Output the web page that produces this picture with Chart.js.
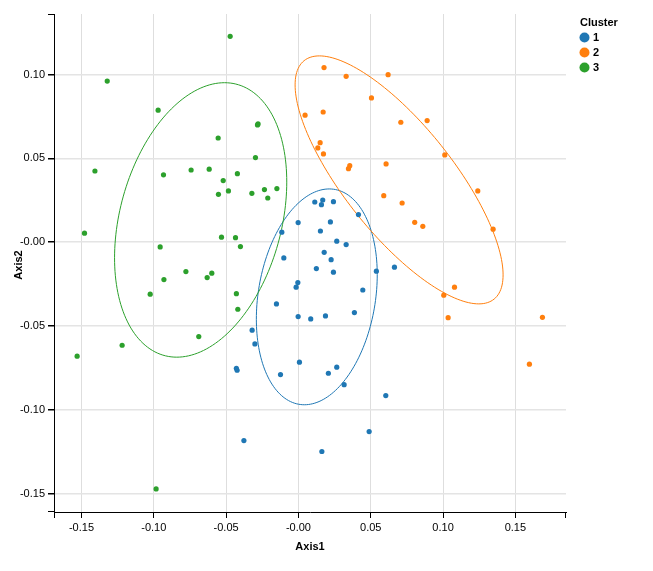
<!DOCTYPE html>
<html>
<head>
<meta charset="utf-8">
<script src="https://cdn.jsdelivr.net/npm/chart.js@4"></script>
<style>
  body { margin: 0; background: #fff; }
  canvas { display: block; }
</style>
</head>
<body>
<canvas id="scatter" width="653" height="571"></canvas>
<script>
// cluster points (Axis1, Axis2)
var cluster1X = [0.0113, 0.0168, 0.0159, 0.0242, 0.0415, -0.0002, 0.0221, -0.0115, 0.0152, 0.0265, 0.0330, -0.0101, 0.0178, 0.0226, 0.0124, 0.0242, 0.0539, 0.0664, -0.0004, -0.0016, 0.0445, -0.0152, 0.0387, -0.0002, 0.0085, 0.0187, -0.0320, -0.0301, 0.0007, 0.0265, -0.0124, 0.0207, 0.0316, 0.0604, 0.0489, 0.0162, -0.0377, -0.0429, -0.0424]
var cluster1Y = [0.0240, 0.0252, 0.0224, 0.0242, 0.0165, 0.0117, 0.0121, 0.0060, 0.0067, 0.0006, -0.0014, -0.0094, -0.0060, -0.0104, -0.0157, -0.0179, -0.0173, -0.0149, -0.0241, -0.0268, -0.0285, -0.0368, -0.0420, -0.0444, -0.0458, -0.0440, -0.0525, -0.0607, -0.0716, -0.0746, -0.0790, -0.0782, -0.0850, -0.0915, -0.1130, -0.1249, -0.1184, -0.0752, -0.0764]

var cluster2X = [0.0177, 0.0330, 0.0620, 0.0505, 0.0046, 0.0171, 0.0708, 0.0890, 0.0150, 0.0134, 0.0173, 0.1012, 0.0355, 0.0346, 0.0606, 0.0590, 0.1240, 0.0717, 0.0804, 0.0860, 0.1346, 0.1005, 0.1079, 0.1035, 0.1687, 0.1597]
var cluster2Y = [0.1042, 0.0990, 0.1000, 0.0861, 0.0758, 0.0777, 0.0716, 0.0726, 0.0594, 0.0563, 0.0527, 0.0521, 0.0457, 0.0439, 0.0467, 0.0278, 0.0306, 0.0234, 0.0119, 0.0095, 0.0078, -0.0316, -0.0268, -0.0450, -0.0448, -0.0728]

var cluster3X = [-0.0472, -0.1322, -0.0970, -0.0555, -0.0279, -0.0283, -0.0297, -0.1407, -0.0933, -0.0742, -0.0617, -0.0422, -0.0520, -0.0553, -0.0484, -0.0322, -0.0235, -0.0149, -0.0212, -0.1479, -0.0532, -0.0435, -0.0956, -0.0401, -0.0778, -0.0599, -0.0631, -0.0930, -0.1025, -0.0429, -0.0419, -0.0689, -0.1219, -0.1530, -0.0984]
var cluster3Y = [0.1229, 0.0962, 0.0788, 0.0622, 0.0706, 0.0700, 0.0505, 0.0425, 0.0402, 0.0431, 0.0436, 0.0409, 0.0368, 0.0286, 0.0306, 0.0292, 0.0314, 0.0320, 0.0264, 0.0054, 0.0030, 0.0027, -0.0028, -0.0026, -0.0175, -0.0185, -0.0211, -0.0223, -0.0310, -0.0307, -0.0400, -0.0563, -0.0615, -0.0680, -0.1472]

// ellipse per cluster: centre and two conjugate half-axes, in data units
var ellCx = [0.0127, 0.0696, -0.0676]
var ellCy = [-0.0326, 0.0372, 0.0133]
var ellUx = [0.0086, -0.0551, 0.0165]
var ellUy = [0.0644, 0.0740, 0.0819]
var ellVx = [0.0409, 0.0462, 0.0572]
var ellVy = [0, 0, 0]

var clusterNames = ["1", "2", "3"]
var clusterColors = ["#1f77b4", "#ff7f0e", "#2ca02c"]

var xTicks = [-0.15, -0.10, -0.05, 0, 0.05, 0.10, 0.15]
var xTickLabels = ["-0.15", "-0.10", "-0.05", "-0.00", "0.05", "0.10", "0.15"]
var yTicks = [-0.15, -0.10, -0.05, 0, 0.05, 0.10]
var yTickLabels = ["-0.15", "-0.10", "-0.05", "-0.00", "0.05", "0.10"]

var xMin = -0.169, xMax = 0.185
var yMin = -0.161, yMax = 0.1362

var FONT = "'Liberation Sans', Arial, sans-serif"

function toPoints(xs, ys){
	let pts = []
	for(let i = 0; i < xs.length; i++){
		pts.push({x: xs[i], y: ys[i]})
	}
	return pts
}

function labelFor(ticks, labels, v){
	for(let i = 0; i < ticks.length; i++){
		if(Math.abs(ticks[i] - v) < 1e-9) return labels[i]
	}
	return ""
}

// confidence ellipses, axis end ticks, axis titles and the legend
var extras = {
	id: "extras",
	beforeDatasetsDraw(chart){
		let ctx = chart.ctx
		let xs = chart.scales.x, ys = chart.scales.y
		ctx.save()
		ctx.lineWidth = 1
		for(let c = 0; c < ellCx.length; c++){
			ctx.strokeStyle = clusterColors[c]
			ctx.beginPath()
			for(let k = 0; k <= 180; k++){
				let t = k / 180 * Math.PI * 2
				let vx = ellCx[c] + ellUx[c] * Math.cos(t) + ellVx[c] * Math.sin(t)
				let vy = ellCy[c] + ellUy[c] * Math.cos(t) + ellVy[c] * Math.sin(t)
				let px = xs.getPixelForValue(vx), py = ys.getPixelForValue(vy)
				if(k === 0) ctx.moveTo(px, py)
				else ctx.lineTo(px, py)
			}
			ctx.stroke()
		}
		ctx.restore()
	},
	afterDraw(chart){
		let ctx = chart.ctx
		let a = chart.chartArea
		ctx.save()
		// outer ticks at the ends of both axes
		ctx.strokeStyle = "#000"
		ctx.lineWidth = 1
		ctx.beginPath()
		ctx.moveTo(a.left + 0.5, a.bottom); ctx.lineTo(a.left + 0.5, a.bottom + 6)
		ctx.moveTo(a.right - 0.5, a.bottom); ctx.lineTo(a.right - 0.5, a.bottom + 6)
		ctx.moveTo(a.left, a.top + 0.5); ctx.lineTo(a.left - 6, a.top + 0.5)
		ctx.moveTo(a.left, a.bottom - 0.5); ctx.lineTo(a.left - 6, a.bottom - 0.5)
		ctx.stroke()

		ctx.fillStyle = "#000"
		ctx.font = "bold 11px " + FONT
		ctx.textAlign = "center"
		ctx.textBaseline = "middle"
		ctx.fillText("Axis1", 310, 547)
		ctx.save()
		ctx.translate(19, 265)
		ctx.rotate(-Math.PI / 2)
		ctx.fillText("Axis2", 0, 0)
		ctx.restore()

		// legend
		ctx.textAlign = "left"
		ctx.fillText("Cluster", 580, 23)
		ctx.font = "bold 11px " + FONT
		for(let i = 0; i < clusterNames.length; i++){
			let cy = 37.5 + i * 15
			ctx.fillStyle = clusterColors[i]
			ctx.beginPath()
			ctx.arc(584.5, cy, 5, 0, Math.PI * 2)
			ctx.fill()
			ctx.fillStyle = "#000"
			ctx.fillText(clusterNames[i], 593, cy + 0.5)
		}
		ctx.restore()
	}
}

var datasets = [
	{label: clusterNames[0], data: toPoints(cluster1X, cluster1Y)},
	{label: clusterNames[1], data: toPoints(cluster2X, cluster2Y)},
	{label: clusterNames[2], data: toPoints(cluster3X, cluster3Y)}
].map((d, i) => Object.assign(d, {
	backgroundColor: clusterColors[i],
	borderWidth: 0,
	pointRadius: 2.6,
	pointHoverRadius: 2.6
}))

var tickFont = {family: FONT, size: 11}

new Chart(document.getElementById("scatter"), {
	type: "scatter",
	data: {datasets: datasets},
	plugins: [extras],
	options: {
		responsive: false,
		animation: false,
		events: [],
		layout: {padding: {top: 14, right: 87, left: 0, bottom: 0}},
		plugins: {legend: {display: false}, tooltip: {enabled: false}},
		scales: {
			x: {
				type: "linear",
				min: xMin,
				max: xMax,
				afterBuildTicks: s => { s.ticks = xTicks.map(v => ({value: v})) },
				afterFit: s => { s.height = 59 },
				grid: {color: "#dedede", tickColor: "#000", tickLength: 6, lineWidth: 1},
				border: {color: "#000", width: 1},
				ticks: {
					font: tickFont, color: "#000", padding: 3, maxRotation: 0, autoSkip: false,
					callback: v => labelFor(xTicks, xTickLabels, v)
				}
			},
			y: {
				type: "linear",
				min: yMin,
				max: yMax,
				afterBuildTicks: s => { s.ticks = yTicks.map(v => ({value: v})) },
				afterFit: s => { s.width = 54 },
				grid: {color: "#e4e4e4", tickColor: "#000", tickLength: 6, lineWidth: 1.5},
				border: {color: "#000", width: 1},
				ticks: {
					font: tickFont, color: "#000", padding: 3, autoSkip: false,
					callback: v => labelFor(yTicks, yTickLabels, v)
				}
			}
		}
	}
})
</script>
</body>
</html>
